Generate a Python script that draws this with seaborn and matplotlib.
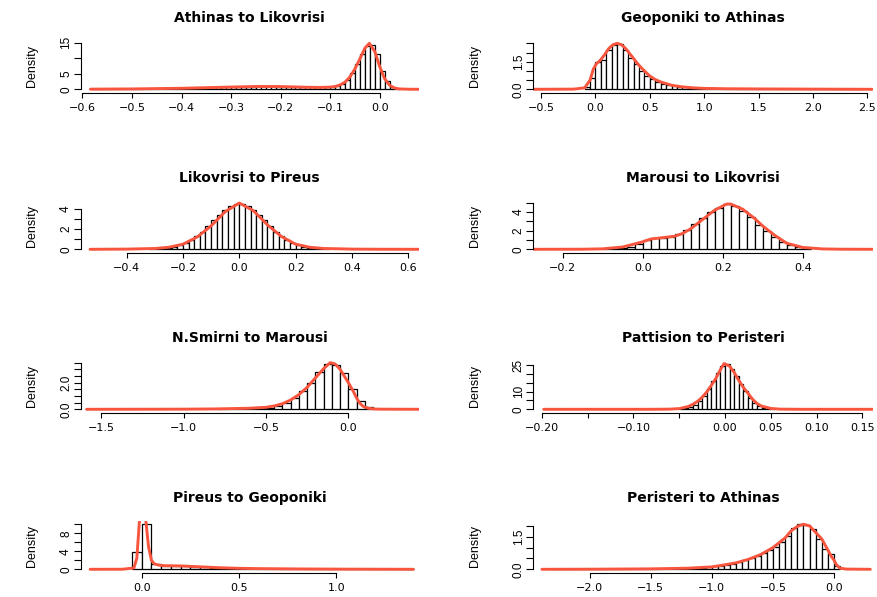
import numpy as np
import pandas as pd
import seaborn as sns
import matplotlib.pyplot as plt

# panel titles, in reading order
titles = ["Athinas to Likovrisi", "Geoponiki to Athinas",
          "Likovrisi to Pireus", "Marousi to Likovrisi",
          "N.Smirni to Marousi", "Pattision to Peristeri",
          "Pireus to Geoponiki", "Peristeri to Athinas"]

# histogram bins (first edge, bin width) and bar densities
ath_lik_bins = (-0.58, 0.01)
ath_lik_heights = [0.05, 0.05, 0.06, 0.07, 0.08, 0.09, 0.10, 0.12,
                   0.13, 0.15, 0.17, 0.19, 0.21, 0.23, 0.25, 0.28, 0.30, 0.33,
                   0.36, 0.40, 0.44, 0.48, 0.52, 0.56, 0.60, 0.64, 0.68, 0.72,
                   0.76, 0.80, 0.84, 0.87, 0.90, 0.92, 0.93, 0.93, 0.92, 0.90,
                   0.88, 0.85, 0.80, 0.75, 0.70, 0.65, 0.60, 0.58, 0.60, 0.65,
                   0.7, 1.1, 1.7, 3.0, 5.2, 8.2, 11.5, 14.0, 14.3, 11.5, 6.0, 2.6, 0.7, 0.15]
ath_lik_kde_x = [-0.584, -0.5, -0.4, -0.3, -0.25, -0.2, -0.15, -0.12, -0.1, -0.09, -0.08, -0.07,
                 -0.06, -0.05, -0.04, -0.03, -0.021, -0.01, 0.0, 0.01, 0.02, 0.03, 0.04, 0.06, 0.079]
ath_lik_kde_y = [0.05, 0.12, 0.33, 0.72, 0.9, 0.88, 0.66, 0.6, 0.7, 0.9, 1.4, 2.3,
                 4.0, 6.6, 9.8, 13.2, 14.8, 12.2, 7.3, 3.4, 1.3, 0.4, 0.12, 0.02, 0.0]

geo_ath_bins = (-0.10, 0.05)
geo_ath_heights = [0.10, 0.63, 1.47, 1.60, 2.14, 2.40, 2.45, 2.14, 1.68, 1.36, 1.00,
                   0.74, 0.54, 0.42, 0.31, 0.24, 0.18, 0.14, 0.11, 0.09, 0.07, 0.06,
                   0.05, 0.05, 0.04, 0.04, 0.04, 0.03, 0.03, 0.03, 0.02, 0.02,
                   0.02, 0.02, 0.02, 0.015, 0.015, 0.015, 0.01, 0.01, 0.01, 0.01,
                   0.01, 0.01, 0.008, 0.008, 0.006, 0.006, 0.005, 0.005, 0.004]
geo_ath_kde_x = [-0.575, -0.2, -0.1, -0.05, -0.02, 0.01, 0.04, 0.08, 0.12, 0.16, 0.2, 0.24, 0.28,
                 0.32, 0.36, 0.4, 0.45, 0.5, 0.55, 0.6, 0.7, 0.8, 0.9, 1.0, 1.2, 1.5, 2.0, 2.545]
geo_ath_kde_y = [0.0, 0.01, 0.08, 0.5, 1.1, 1.4, 1.55, 1.85, 2.2, 2.42, 2.5, 2.42, 2.2,
                 1.9, 1.6, 1.3, 1.0, 0.72, 0.53, 0.4, 0.22, 0.13, 0.08, 0.05, 0.03, 0.02, 0.01, 0.0]

lik_pir_bins = (-0.32, 0.02)
lik_pir_heights = [0.02, 0.05, 0.08, 0.15, 0.25, 0.4, 0.6, 0.9, 1.3, 1.75, 2.3, 2.9, 3.4, 3.9, 4.3, 4.5,
                   4.5, 4.3, 3.9, 3.4, 2.9, 2.3, 1.75, 1.3, 0.9, 0.6, 0.4, 0.25, 0.15, 0.08, 0.05, 0.02]
lik_pir_kde_x = [-0.53, -0.4, -0.3, -0.25, -0.2, -0.15, -0.1, -0.05, 0.0,
                 0.05, 0.1, 0.15, 0.2, 0.25, 0.3, 0.4, 0.5, 0.638]
lik_pir_kde_y = [0.0, 0.02, 0.08, 0.2, 0.5, 1.2, 2.3, 3.7, 4.55,
                 3.8, 2.4, 1.25, 0.5, 0.2, 0.08, 0.02, 0.005, 0.0]

mar_lik_bins = (-0.10, 0.02)
mar_lik_heights = [0.05, 0.1, 0.17, 0.3, 0.55, 1.0, 1.2, 1.25, 1.35, 1.6, 2.1, 2.75, 3.4,
                   4.0, 4.4, 4.9, 4.65, 4.1, 3.5, 2.6, 1.95, 1.3, 0.8, 0.45, 0.25, 0.1]
mar_lik_kde_x = [-0.274, -0.15, -0.1, -0.05, 0.0, 0.02, 0.05, 0.08, 0.1, 0.12, 0.15, 0.18,
                 0.21, 0.22, 0.25, 0.28, 0.3, 0.33, 0.36, 0.4, 0.45, 0.5, 0.576]
mar_lik_kde_y = [0.0, 0.01, 0.05, 0.25, 0.8, 1.1, 1.25, 1.4, 1.7, 2.2, 3.2, 4.2,
                 4.85, 4.85, 4.3, 3.3, 2.5, 1.5, 0.65, 0.2, 0.04, 0.01, 0.0]

nsm_mar_bins = (-0.80, 0.05)
nsm_mar_heights = [0.02, 0.03, 0.04, 0.05, 0.07, 0.09, 0.12, 0.25, 0.5, 0.83,
                   1.4, 2.0, 2.8, 3.4, 3.3, 2.7, 1.5, 0.6, 0.15]
nsm_mar_kde_x = [-1.589, -1.0, -0.8, -0.6, -0.5, -0.45, -0.4, -0.35, -0.3, -0.25, -0.2, -0.15, -0.11,
                 -0.08, -0.05, -0.02, 0.0, 0.03, 0.05, 0.07, 0.09, 0.12, 0.16, 0.2, 0.429]
nsm_mar_kde_y = [0.0, 0.01, 0.03, 0.08, 0.15, 0.25, 0.42, 0.7, 1.1, 1.65, 2.35, 3.05, 3.5,
                 3.4, 3.0, 2.4, 2.0, 1.35, 0.85, 0.45, 0.22, 0.08, 0.02, 0.01, 0.0]

pat_per_bins = (-0.05, 0.005)
pat_per_heights = [0.3, 0.7, 1.4, 2.7, 4.8, 7.8, 11.5, 15.8, 20.5, 24.5, 25.5,
                   23.0, 19.0, 14.5, 10.2, 6.5, 3.8, 2.0, 1.0, 0.4, 0.15]
pat_per_kde_x = [-0.198, -0.08, -0.06, -0.05, -0.04, -0.035, -0.03, -0.025, -0.02, -0.015, -0.01, -0.005,
                 -0.001, 0.005, 0.01, 0.015, 0.02, 0.025, 0.03, 0.035, 0.04, 0.05, 0.06, 0.08, 0.162]
pat_per_kde_y = [0.0, 0.01, 0.1, 0.4, 1.6, 2.8, 4.5, 6.8, 9.8, 13.5, 17.5, 22.5,
                 26.0, 24.5, 21.0, 16.5, 12.5, 9.2, 5.8, 3.3, 1.8, 0.5, 0.1, 0.01, 0.0]

pir_geo_bins = (-0.05, 0.05)
pir_geo_heights = [3.9, 10.0, 1.26, 0.75, 0.7, 0.65, 0.55, 0.45, 0.35, 0.28, 0.22, 0.18, 0.15,
                   0.12, 0.10, 0.08, 0.07, 0.06, 0.05, 0.05, 0.04, 0.03, 0.02, 0.02, 0.01,
                   0.01, 0.005, 0.005, 0.005]
pir_geo_kde_x = [-0.265, -0.1, -0.04, -0.025, -0.012, 0.005, 0.022, 0.035, 0.05, 0.065, 0.09,
                 0.12, 0.2, 0.3, 0.4, 0.5, 0.6, 0.8, 1.0, 1.2, 1.395]
pir_geo_kde_y = [0.0, 0.01, 0.3, 2.5, 10.5, 16.0, 10.5, 5.0, 2.0, 1.2, 0.9,
                 0.8, 0.75, 0.55, 0.35, 0.22, 0.15, 0.08, 0.04, 0.02, 0.0]

per_ath_bins = (-2.30, 0.05)
per_ath_heights = [0.005, 0.005, 0.005, 0.005, 0.008, 0.008, 0.008, 0.01,
                   0.01, 0.01, 0.012, 0.012, 0.015, 0.015, 0.018, 0.018,
                   0.02, 0.02, 0.03, 0.03, 0.04, 0.05, 0.06, 0.07, 0.08, 0.1,
                   0.13, 0.17, 0.21, 0.26, 0.33, 0.41, 0.5, 0.61, 0.74, 0.9,
                   1.05, 1.28, 1.55, 1.92, 2.07, 2.05, 1.85, 1.38, 0.92, 0.7, 0.15]
per_ath_kde_x = [-2.39, -2.0, -1.5, -1.2, -1.0, -0.9, -0.8, -0.7, -0.6, -0.5, -0.4, -0.35,
                 -0.3, -0.25, -0.2, -0.15, -0.1, -0.05, -0.02, 0.0, 0.02, 0.05, 0.1, 0.297]
per_ath_kde_y = [0.0, 0.005, 0.02, 0.05, 0.11, 0.2, 0.3, 0.46, 0.68, 1.0, 1.45, 1.78,
                 1.98, 2.08, 2.0, 1.7, 1.4, 0.88, 0.58, 0.42, 0.2, 0.05, 0.01, 0.0]

# axis ticks and which tick labels R managed to print
x_ticks = [[-0.6, -0.5, -0.4, -0.3, -0.2, -0.1, 0.0], [-0.5, 0.0, 0.5, 1.0, 1.5, 2.0, 2.5],
           [-0.4, -0.2, 0.0, 0.2, 0.4, 0.6], [-0.2, 0.0, 0.2, 0.4],
           [-1.5, -1.0, -0.5, 0.0], [-0.20, -0.15, -0.10, -0.05, 0.00, 0.05, 0.10, 0.15],
           [0.0, 0.5, 1.0], [-2.0, -1.5, -1.0, -0.5, 0.0]]
x_labels = [["−0.6", "−0.5", "−0.4", "−0.3", "−0.2", "−0.1", "0.0"],
            ["−0.5", "0.0", "0.5", "1.0", "1.5", "2.0", "2.5"],
            ["−0.4", "−0.2", "0.0", "0.2", "0.4", "0.6"], ["−0.2", "0.0", "0.2", "0.4"],
            ["−1.5", "−1.0", "−0.5", "0.0"],
            ["−0.20", "", "−0.10", "", "0.00", "0.05", "0.10", "0.15"],
            ["0.0", "0.5", "1.0"], ["−2.0", "−1.5", "−1.0", "−0.5", "0.0"]]
y_ticks = [[0, 5, 10, 15], [0, 0.5, 1.0, 1.5, 2.0, 2.5], [0, 1, 2, 3, 4], [0, 1, 2, 3, 4, 5],
           [0, 0.5, 1.0, 1.5, 2.0, 2.5, 3.0, 3.5], [0, 5, 10, 15, 20, 25],
           [0, 2, 4, 6, 8, 10], [0, 0.5, 1.0, 1.5, 2.0]]
y_labels = [["0", "5", "", "15"], ["0.0", "", "", "1.5", "", ""], ["0", "", "2", "", "4"],
            ["0", "", "2", "", "4", ""], ["0.0", "", "", "", "2.0", "", "", ""],
            ["0", "", "10", "", "", "25"], ["0", "", "4", "", "8", ""],
            ["0.0", "", "", "1.5", ""]]

panels = [(ath_lik_bins, ath_lik_heights, ath_lik_kde_x, ath_lik_kde_y),
          (geo_ath_bins, geo_ath_heights, geo_ath_kde_x, geo_ath_kde_y),
          (lik_pir_bins, lik_pir_heights, lik_pir_kde_x, lik_pir_kde_y),
          (mar_lik_bins, mar_lik_heights, mar_lik_kde_x, mar_lik_kde_y),
          (nsm_mar_bins, nsm_mar_heights, nsm_mar_kde_x, nsm_mar_kde_y),
          (pat_per_bins, pat_per_heights, pat_per_kde_x, pat_per_kde_y),
          (pir_geo_bins, pir_geo_heights, pir_geo_kde_x, pir_geo_kde_y),
          (per_ath_bins, per_ath_heights, per_ath_kde_x, per_ath_kde_y)]

# layout in pixels (figure is 878 x 597)
W, H = 878, 597
col_px = [(80.5, 419.0), (533.0, 873.0)]
xlims = [(-0.604, 0.0793), (-0.575, 2.553), (-0.5637, 0.6379), (-0.2743, 0.5758),
         (-1.626, 0.429), (-0.2097, 0.1617), (-0.3143, 1.424), (-2.463, 0.3187)]
y_px_per_unit = [3.107, 18.4, 10.17, 9.33, 13.33, 1.76, 4.5, 21.67]

sns.set_style("ticks")
plt.rcParams['font.family'] = ['DejaVu Sans']
for key in ('text.color', 'axes.labelcolor', 'xtick.color', 'ytick.color', 'axes.edgecolor'):
    plt.rcParams[key] = 'black'
narrow = ['Liberation Sans Narrow', 'Liberation Sans', 'DejaVu Sans']
red = '#f8553e'

fig = plt.figure(figsize=(W / 100, H / 100), dpi=100)

for i, (bins, heights, kx, ky) in enumerate(panels):
    row, col = divmod(i, 2)
    x0, x1 = col_px[col]
    zero = 89.3 + 160 * row
    ax = fig.add_axes([x0 / W, 1 - (zero + 4) / H, (x1 - x0) / W, 52 / H])

    start, width = bins
    edges = start + width * np.arange(len(heights) + 1)
    hist_df = pd.DataFrame({"value": edges[:-1] + width / 2, "density": heights})
    kde_df = pd.DataFrame({"value": kx, "density": ky})

    sns.histplot(data=hist_df, x="value", weights="density", bins=list(edges), stat="count",
                 color="white", edgecolor="black", linewidth=0.9, alpha=1, ax=ax)
    sns.lineplot(data=kde_df, x="value", y="density", color=red, linewidth=2.1, ax=ax)

    ppu = y_px_per_unit[i]
    ax.set_xlim(*xlims[i])
    ax.set_ylim(-4 / ppu, 48 / ppu)

    ax.set_xticks(x_ticks[i])
    ax.set_xticklabels(x_labels[i], fontsize=8)
    ax.set_yticks(y_ticks[i])
    ax.set_yticklabels(y_labels[i], fontsize=8.5, family=narrow, rotation=90, va='center')
    ax.tick_params(axis='x', length=3.6, width=0.8, pad=3.5, colors='black')
    ax.tick_params(axis='y', length=5, width=0.8, pad=1, colors='black')

    sns.despine(ax=ax)
    ax.spines['left'].set_bounds(y_ticks[i][0], y_ticks[i][-1])
    ax.spines['bottom'].set_bounds(x_ticks[i][0], x_ticks[i][-1])
    for s in ('left', 'bottom'):
        ax.spines[s].set_linewidth(0.8)
        ax.spines[s].set_color('black')

    ax.set_xlabel("")
    ax.set_ylabel("")
    ax.text(0.5, 1 + 23 / 52, titles[i], transform=ax.transAxes,
            ha='center', va='center', fontsize=10, fontweight='bold', color='black')
    fig.text((32 if col == 0 else 475) / W, 1 - (zero - 23) / H, "Density",
             rotation=90, ha='center', va='center', fontsize=9, family=narrow, color='black')

fig.savefig("out.png", dpi=100)
